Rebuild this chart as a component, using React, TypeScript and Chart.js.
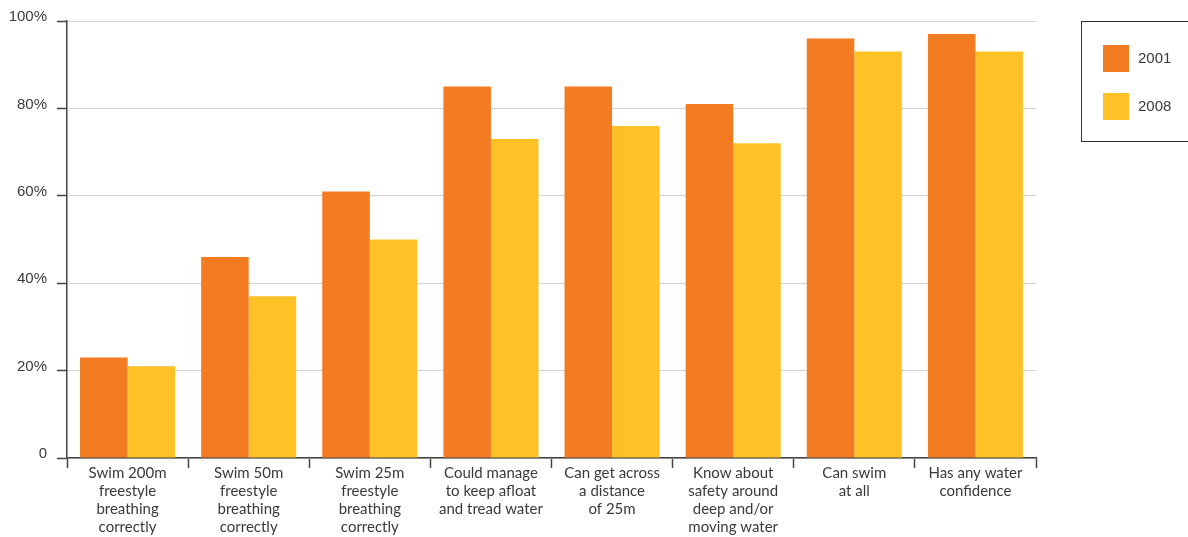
import React, { useEffect, useRef } from "react";
import { Chart, registerables } from "chart.js";

Chart.register(...registerables);

const categories: string[][] = [
  ["Swim 200m", "freestyle", "breathing", "correctly"],
  ["Swim 50m", "freestyle", "breathing", "correctly"],
  ["Swim 25m", "freestyle", "breathing", "correctly"],
  ["Could manage", "to keep afloat", "and tread water"],
  ["Can get across", "a distance", "of 25m"],
  ["Know about", "safety around", "deep and/or", "moving water"],
  ["Can swim", "at all"],
  ["Has any water", "confidence"],
];

const series2001 = [23, 46, 61, 85, 85, 81, 96, 97];
const series2008 = [21, 37, 50, 73, 76, 72, 93, 93];
const seriesLabels = ["2001", "2008"];
const seriesColors = ["#F37C22", "#FEC226"];
const yTickLabels = ["0", "20%", "40%", "60%", "80%", "100%"];

const FONT_X = "Lato, 'Noto Sans', sans-serif";
const FONT_Y = "'Liberation Sans', Arial, sans-serif";
const TEXT = "#3a3a3a";

const legendBoxPlugin = {
  id: "legendBox",
  afterDraw(chart: any) {
    const ctx = chart.ctx;
    ctx.save();
    ctx.strokeStyle = "#333";
    ctx.lineWidth = 1;
    ctx.strokeRect(1081.5, 21.5, 140, 120);
    chart.data.datasets.forEach((ds: any, i: number) => {
      const y = 45 + i * 48;
      ctx.fillStyle = ds.backgroundColor;
      ctx.fillRect(1103, y, 26, 27);
      ctx.fillStyle = TEXT;
      ctx.font = `15px ${FONT_Y}`;
      ctx.textBaseline = "middle";
      ctx.textAlign = "left";
      ctx.fillText(ds.label, 1138, y + 14);
    });
    ctx.restore();
  },
};

export default function App() {
  const ref = useRef<HTMLCanvasElement | null>(null);
  useEffect(() => {
    if (!ref.current) return;
    const chart = new Chart(ref.current, {
      type: "bar",
      data: {
        labels: categories,
        datasets: [
          { label: seriesLabels[0], data: series2001, backgroundColor: seriesColors[0] },
          { label: seriesLabels[1], data: series2008, backgroundColor: seriesColors[1] },
        ],
      },
      options: {
        animation: false,
        responsive: false,
        maintainAspectRatio: false,
        layout: { padding: { top: 21, right: 152, bottom: 0, left: 0 } },
        plugins: { legend: { display: false }, tooltip: { enabled: false } },
        datasets: { bar: { barPercentage: 1, categoryPercentage: 0.785 } },
        scales: {
          x: {
            grid: {
              offset: true,
              drawOnChartArea: false,
              drawTicks: true,
              tickLength: 10,
              tickColor: "#444",
              tickWidth: 1.5,
            },
            border: { display: true, color: "#444", width: 1.5 },
            ticks: {
              color: TEXT,
              font: { family: FONT_X, size: 15, lineHeight: "18px" },
              padding: -4,
              maxRotation: 0,
              autoSkip: false,
            },
            afterFit: (s: any) => {
              s.height = 79;
            },
          },
          y: {
            min: 0,
            max: 100,
            grid: {
              color: "#d3d3d3",
              lineWidth: 1,
              drawTicks: true,
              tickLength: 10,
              tickColor: "#444",
              tickWidth: 1.5,
            },
            border: { display: true, color: "#444", width: 1.5 },
            ticks: {
              stepSize: 20,
              color: TEXT,
              font: { family: FONT_Y, size: 15 },
              padding: 10,
              labelOffset: -4,
              callback: (_v: any, i: number) => yTickLabels[i],
            },
            afterFit: (s: any) => {
              s.width = 67;
            },
          },
        },
      },
      plugins: [legendBoxPlugin],
    });
    return () => chart.destroy();
  }, []);
  return (
    <div style={{ position: "absolute", left: 0, top: 0, width: 1188, height: 537, background: "#fff" }}>
      <canvas ref={ref} width={1188} height={537} style={{ display: "block" }} />
    </div>
  );
}
